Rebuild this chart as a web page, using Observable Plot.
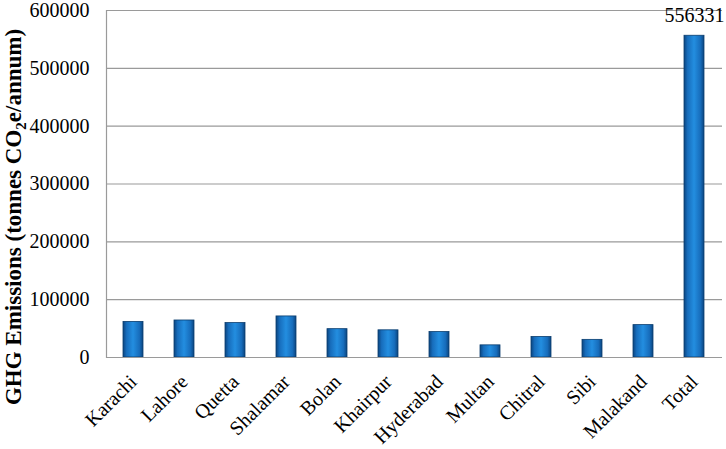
<!DOCTYPE html>
<html>
<head>
<meta charset="utf-8">
<script src="https://cdn.jsdelivr.net/npm/d3@7"></script>
<script src="https://cdn.jsdelivr.net/npm/@observablehq/plot@0.6"></script>
<style>
  html, body { margin: 0; padding: 0; background: #fff; }
  #chart { width: 726px; height: 449px; }
</style>
</head>
<body>
<div id="chart"></div>
<script>
const categories = ["Karachi", "Lahore", "Quetta", "Shalamar", "Bolan", "Khairpur", "Hyderabad", "Multan", "Chitral", "Sibi", "Malakand", "Total"];
const values = [61500, 64000, 59500, 71000, 49000, 47000, 44000, 21000, 35500, 30500, 56000, 556331];
const yTicks = [0, 100000, 200000, 300000, 400000, 500000, 600000];
const labelled = ["Total"];

const data = categories.map((c, i) => ({category: c, value: values[i]}));
const font = "'Liberation Serif', 'Times New Roman', serif";

const plot = Plot.plot({
  width: 726,
  height: 449,
  marginLeft: 106,
  marginRight: 4,
  marginTop: 10,
  marginBottom: 92,
  style: {fontFamily: font, fontSize: "20px", color: "#000", background: "#fff"},
  x: {domain: categories, paddingInner: 0.6, paddingOuter: 0.3, label: null},
  y: {domain: [0, 600000], label: null},
  marks: [
    Plot.gridY(yTicks, {stroke: "#9a9a9a", strokeOpacity: 1, strokeWidth: 1.2}),
    Plot.frame({anchor: "left", stroke: "#9a9a9a", strokeWidth: 1.2}),
    Plot.barY(data, {x: "category", y: "value", fill: "url(#barGrad)", stroke: "#0a3d6e", strokeWidth: 0.8}),
    Plot.tickY(data, {x: "category", y: "value", stroke: "url(#topGrad)", strokeWidth: 5, dy: 3, inset: 1.5}),
    Plot.ruleY([0], {stroke: "#9a9a9a", strokeWidth: 1.2}),
    Plot.axisY({ticks: yTicks, tickSize: 0, tickPadding: 17, tickFormat: d => String(d), fontSize: 20, label: null}),
    Plot.axisX({tickSize: 0, tickPadding: 21, tickRotate: -45, fontSize: 20, label: null}),
    Plot.text(data.filter(d => labelled.includes(d.category)), {x: "category", y: "value", text: d => String(d.value), lineAnchor: "bottom", dy: -14, fontSize: 20})
  ]
});

const svg = d3.select(plot);
const defs = svg.insert("defs", ":first-child");
const g1 = defs.append("linearGradient").attr("id", "barGrad").attr("x1", "0").attr("x2", "1").attr("y1", "0").attr("y2", "0");
[["0%", "#0b4580"], ["18%", "#176dbc"], ["50%", "#238ee0"], ["82%", "#176dbc"], ["100%", "#0b4580"]]
  .forEach(([o, c]) => g1.append("stop").attr("offset", o).attr("stop-color", c));
const g2 = defs.append("linearGradient").attr("id", "topGrad").attr("x1", "0").attr("x2", "1").attr("y1", "0").attr("y2", "0");
[["0%", "#2a8fd8"], ["50%", "#6cc8f4"], ["100%", "#2a8fd8"]]
  .forEach(([o, c]) => g2.append("stop").attr("offset", o).attr("stop-color", c));

// rotated y-axis title with subscript
const title = svg.append("text")
  .attr("transform", "translate(21,217) rotate(-90)")
  .attr("text-anchor", "middle")
  .attr("font-family", font)
  .attr("font-weight", "bold")
  .attr("font-size", 23)
  .attr("fill", "#000");
title.append("tspan").text("GHG Emissions (tonnes CO");
title.append("tspan").attr("font-size", 15).attr("dy", 5).text("2");
title.append("tspan").attr("dy", -5).text("e/annum)");

document.getElementById("chart").appendChild(plot);
</script>
</body>
</html>
